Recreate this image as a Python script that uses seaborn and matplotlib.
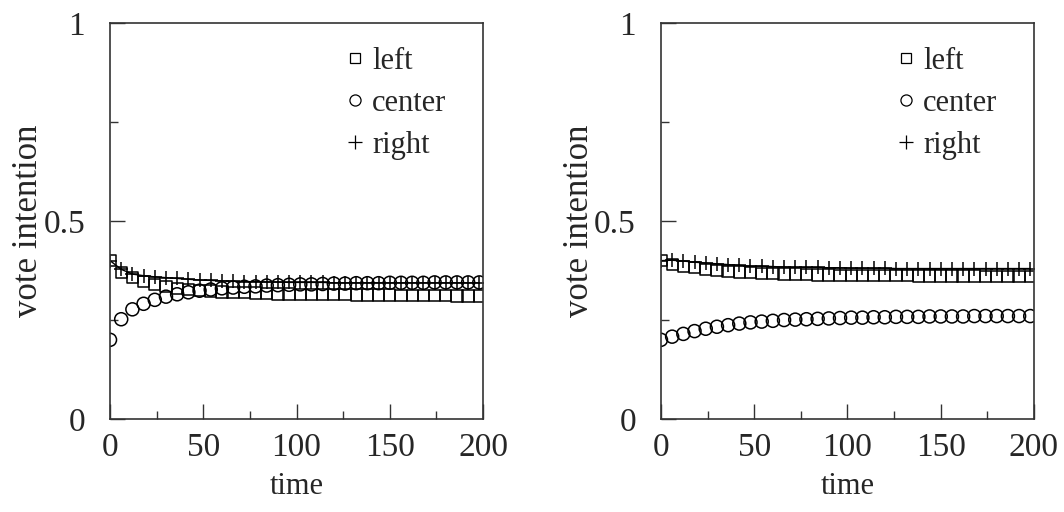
import matplotlib
matplotlib.use("Agg")
import matplotlib.pyplot as plt
import seaborn as sns
import numpy as np
import pandas as pd
from matplotlib.lines import Line2D

# time samples (one marker every 6 steps)
time = [0, 6, 12, 18, 24, 30, 36, 42, 48, 54, 60, 66, 72, 78, 84, 90, 96,
        102, 108, 114, 120, 126, 132, 138, 144, 150, 156, 162, 168, 174,
        180, 186, 192, 198]

# left panel
left_a = [0.400, 0.370, 0.357, 0.347, 0.340, 0.334, 0.330, 0.327, 0.325, 0.323,
          0.321, 0.320, 0.319, 0.318, 0.317, 0.316, 0.316, 0.315, 0.315, 0.314,
          0.314, 0.314, 0.313, 0.313, 0.313, 0.313, 0.312, 0.312, 0.312, 0.312,
          0.312, 0.311, 0.311, 0.311]
center_a = [0.200, 0.252, 0.277, 0.291, 0.301, 0.309, 0.315, 0.320, 0.324, 0.327,
            0.330, 0.332, 0.334, 0.335, 0.337, 0.338, 0.339, 0.340, 0.340, 0.341,
            0.342, 0.342, 0.343, 0.343, 0.343, 0.344, 0.344, 0.344, 0.344, 0.345,
            0.345, 0.345, 0.345, 0.345]
right_a = [0.400, 0.378, 0.366, 0.362, 0.359, 0.357, 0.355, 0.353, 0.351, 0.350,
           0.349, 0.348, 0.347, 0.347, 0.346, 0.346, 0.345, 0.345, 0.345, 0.345,
           0.344, 0.344, 0.344, 0.344, 0.344, 0.344, 0.344, 0.344, 0.344, 0.344,
           0.344, 0.344, 0.344, 0.344]

# right panel
left_b = [0.400, 0.391, 0.386, 0.382, 0.378, 0.375, 0.373, 0.371, 0.370, 0.368,
          0.367, 0.366, 0.366, 0.365, 0.364, 0.364, 0.363, 0.363, 0.363, 0.362,
          0.362, 0.362, 0.362, 0.361, 0.361, 0.361, 0.361, 0.361, 0.361, 0.360,
          0.360, 0.360, 0.360, 0.360]
center_b = [0.200, 0.208, 0.215, 0.222, 0.228, 0.233, 0.237, 0.241, 0.244, 0.246,
            0.248, 0.250, 0.251, 0.252, 0.253, 0.254, 0.255, 0.256, 0.256, 0.257,
            0.257, 0.258, 0.258, 0.258, 0.259, 0.259, 0.259, 0.259, 0.260, 0.260,
            0.260, 0.260, 0.260, 0.260]
right_b = [0.400, 0.401, 0.399, 0.396, 0.394, 0.392, 0.390, 0.388, 0.386, 0.386,
           0.385, 0.384, 0.383, 0.383, 0.383, 0.382, 0.382, 0.381, 0.381, 0.381,
           0.381, 0.380, 0.380, 0.380, 0.380, 0.380, 0.380, 0.380, 0.380, 0.380,
           0.380, 0.380, 0.380, 0.380]

x_ticks = [0, 50, 100, 150, 200]
y_ticks = [0, 0.5, 1]
y_tick_labels = ["0", "0.5", "1"]

sns.set_style("white")
plt.rcParams['font.family'] = ['Liberation Serif', 'DejaVu Serif']


def draw_panel(ax, left, center, right):
    df = pd.DataFrame({'time': time, 'left': left, 'center': center, 'right': right})
    # seaborn draws marker edges white by default, so force black
    sns.lineplot(data=df, x='time', y='right', ax=ax, color='black', linewidth=1.0,
                 marker='+', markersize=10.5, markeredgewidth=1.1,
                 markeredgecolor='black', legend=False)
    sns.scatterplot(data=df, x='time', y='left', ax=ax, marker='s', s=66,
                    facecolor='none', edgecolor='black', linewidth=1.1, legend=False)
    sns.scatterplot(data=df, x='time', y='center', ax=ax, marker='o', s=88,
                    facecolor='none', edgecolor='black', linewidth=1.1, legend=False)

    ax.set_xlim(0, 200)
    ax.set_ylim(0, 1)
    ax.set_xticks(x_ticks)
    ax.set_xticks([25, 75, 125, 175], minor=True)
    ax.set_yticks(y_ticks)
    ax.set_yticklabels(y_tick_labels)
    ax.set_yticks([0.25, 0.75], minor=True)
    ax.tick_params(which='both', direction='in', bottom=True, left=True,
                   top=False, right=False, labelsize=24, color='#333333', width=1.0)
    ax.tick_params(which='major', length=11)
    ax.tick_params(which='minor', length=6)
    ax.tick_params(axis='x', pad=10)
    ax.tick_params(axis='y', pad=18)
    for sp in ax.spines.values():
        sp.set_color('#333333')
        sp.set_linewidth(1.2)
    ax.set_xlabel('time', fontsize=22, labelpad=6)
    ax.set_ylabel('vote intention', fontsize=25)
    ax.yaxis.set_label_coords(-0.175, 0.5)

    handles = [
        Line2D([], [], marker='s', linestyle='none', markersize=7,
               markerfacecolor='none', markeredgecolor='black', markeredgewidth=0.9),
        Line2D([], [], marker='o', linestyle='none', markersize=8,
               markerfacecolor='none', markeredgecolor='black', markeredgewidth=0.9),
        Line2D([], [], marker='+', linestyle='none', markersize=10,
               color='black', markeredgewidth=0.9),
    ]
    ax.legend(handles, ['left', 'center', 'right'], loc='upper left',
              bbox_to_anchor=(0.6, 0.97), frameon=False, fontsize=22,
              handlelength=0.6, handletextpad=0.25, labelspacing=0.42,
              borderaxespad=0.0)


fig = plt.figure(figsize=(10.64, 5.12), dpi=100)
ax1 = fig.add_axes([0.1034, 0.1816, 0.3506, 0.7734])
ax2 = fig.add_axes([0.6212, 0.1816, 0.3506, 0.7734])
draw_panel(ax1, left_a, center_a, right_a)
draw_panel(ax2, left_b, center_b, right_b)

fig.savefig('out.png', dpi=100)
